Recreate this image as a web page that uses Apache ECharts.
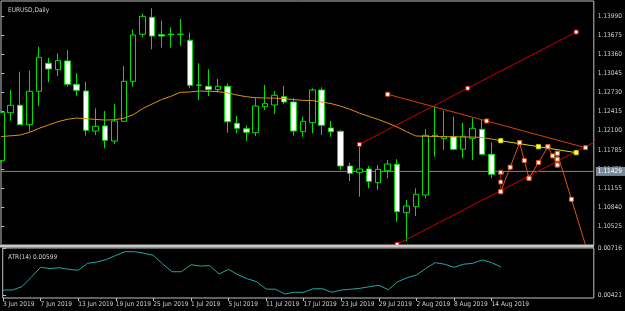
<!DOCTYPE html>
<html><head><meta charset="utf-8">
<script src="https://cdn.jsdelivr.net/npm/echarts@6/dist/echarts.min.js"></script>
<style>html,body{margin:0;padding:0;background:#000}#c{width:625px;height:311px}</style>
</head><body><div id="c"></div>
<script>
const dates = ['3 Jun 2019','4 Jun 2019','5 Jun 2019','6 Jun 2019','7 Jun 2019','10 Jun 2019','11 Jun 2019','12 Jun 2019','13 Jun 2019','14 Jun 2019',
'17 Jun 2019','18 Jun 2019','19 Jun 2019','20 Jun 2019','21 Jun 2019','24 Jun 2019','25 Jun 2019','26 Jun 2019','27 Jun 2019','28 Jun 2019',
'1 Jul 2019','2 Jul 2019','3 Jul 2019','4 Jul 2019','5 Jul 2019','8 Jul 2019','9 Jul 2019','10 Jul 2019','11 Jul 2019','12 Jul 2019',
'15 Jul 2019','16 Jul 2019','17 Jul 2019','18 Jul 2019','19 Jul 2019','22 Jul 2019','23 Jul 2019','24 Jul 2019','25 Jul 2019','26 Jul 2019',
'29 Jul 2019','30 Jul 2019','31 Jul 2019','1 Aug 2019','2 Aug 2019','5 Aug 2019','6 Aug 2019','7 Aug 2019','8 Aug 2019','9 Aug 2019',
'12 Aug 2019','13 Aug 2019','14 Aug 2019','15 Aug 2019'];
const openP = [1.11606,1.12397,1.12519,1.12199,1.12749,1.13211,1.13105,1.13249,1.12865,1.12754,
1.12095,1.12178,1.11930,1.12255,1.12914,1.13689,1.13969,1.13682,1.13693,1.13689,
1.13590,1.12853,1.12832,1.12776,1.12832,1.12222,1.12133,1.12067,1.12496,1.12524,
1.12660,1.12573,1.12084,1.12232,1.12771,1.12145,1.12090,1.11518,1.11415,1.11469,
1.11243,1.11441,1.11547,1.10749,1.10848,1.11041,1.12013,1.11968,1.12001,1.11794,
1.11975,1.12123,1.11711,1.11387];
const closeP = [1.12403,1.12519,1.12199,1.12749,1.13310,1.13117,1.13254,1.12865,1.12766,1.12107,
1.12173,1.11942,1.12260,1.12914,1.13677,1.13985,1.13660,1.13660,1.13682,1.13689,
1.12848,1.12848,1.12776,1.12832,1.12248,1.12140,1.12074,1.12507,1.12545,1.12683,
1.12573,1.12095,1.12255,1.12771,1.12189,1.12084,1.11518,1.11398,1.11469,1.11266,
1.11464,1.11551,1.10765,1.10859,1.11052,1.12024,1.12024,1.12001,1.11794,1.12008,
1.12140,1.11711,1.11382,1.11429];
const lowP = [1.11584,1.12265,1.12194,1.12084,1.12507,1.12898,1.13001,1.12825,1.12677,1.12018,
1.12029,1.11810,1.11881,1.12248,1.12825,1.13639,1.13441,1.13468,1.13468,1.13501,
1.12799,1.12606,1.12672,1.12726,1.12067,1.12057,1.11935,1.12013,1.12441,1.12375,
1.12535,1.12018,1.12001,1.12057,1.12029,1.12001,1.11453,1.11271,1.11013,1.11151,
1.11123,1.11316,1.10601,1.10283,1.10695,1.10986,1.11672,1.11782,1.11774,1.11645,
1.11617,1.11700,1.11316,1.11380];
const highP = [1.12425,1.12771,1.13072,1.13089,1.13484,1.13303,1.13375,1.13430,1.13046,1.12907,
1.12469,1.12425,1.12540,1.13166,1.13771,1.14034,1.14117,1.13913,1.13804,1.13941,
1.13715,1.13211,1.13112,1.12952,1.12881,1.12342,1.12189,1.12644,1.12853,1.12754,
1.12837,1.12634,1.12331,1.12799,1.12815,1.12260,1.12107,1.11573,1.11876,1.11518,
1.11535,1.11617,1.11629,1.10958,1.11151,1.12128,1.12496,1.12425,1.12331,1.12232,
1.12304,1.12276,1.11909,1.11441];
const maValues = [1.12003,1.12016,1.12029,1.12074,1.12138,1.12194,1.12247,1.12288,1.12309,1.12298,
1.12286,1.12276,1.12280,1.12306,1.12364,1.12464,1.12540,1.12613,1.12667,1.12733,
1.12738,1.12753,1.12749,1.12744,1.12723,1.12688,1.12660,1.12644,1.12639,1.12637,
1.12627,1.12613,1.12601,1.12596,1.12573,1.12547,1.12504,1.12453,1.12390,1.12336,
1.12285,1.12227,1.12161,1.12085,1.12013,1.12008,1.12005,1.12001,1.12000,1.11996,
1.11996,1.11988,1.11963,1.11935];
const atrValues = [0.00454,0.00454,0.00475,0.00534,0.00597,0.00589,0.00594,0.00584,0.00578,0.00622,
0.00630,0.00646,0.00671,0.00695,0.00695,0.00685,0.00672,0.00617,0.00569,0.00569,
0.00613,0.00605,0.00607,0.00555,0.00584,0.00550,0.00525,0.00506,0.00460,0.00459,
0.00429,0.00440,0.00440,0.00462,0.00462,0.00440,0.00454,0.00459,0.00465,0.00475,
0.00484,0.00456,0.00506,0.00531,0.00548,0.00590,0.00626,0.00616,0.00597,0.00616,
0.00622,0.00643,0.00626,0.00599];
const bidPrice = 1.11429;
const priceTicks = [1.10525,1.10840,1.11155,1.11470,1.11785,1.12100,1.12415,1.12730,1.13045,1.13360,1.13675,1.13990];
const atrTicks = [0.00421,0.00716];
const dateTickIdx = [0,4,8,12,16,20,24,28,32,36,40,44,48,52];
// drawn objects: [barIndex, price]
const channelUpper = [[38,1.11876],[61,1.13726]];
const channelLowerStart = [42,1.10228];
const resistanceLine = [[41,1.12700],[62,1.11820]];
const maProjection = [[53,1.11935],[61,1.11738]];
const wavePoints = [[53,1.11415],[53,1.11095],[55,1.11902],[56,1.11316],[58,1.11836],[59,1.11535],[59,1.11728],[62,1.10212]];

const X_MIN = -0.03, X_MAX = 62.875;
const FONT = "'Liberation Sans Narrow','DejaVu Sans Condensed','Liberation Sans',sans-serif";
const TXT = '#d0d0d0';

function withMid(a, b){ return [a, [(a[0]+b[0])/2, (a[1]+b[1])/2], b]; }
function handleItems(pts, flags){ return pts.map((p,i)=>({value:p, symbol: flags && flags[i]===false ? 'none':'rect'})); }
function objLine(name, pts, color, dotFill, flags, z){
  return {type:'line', name, xAxisIndex:0, yAxisIndex:0, data: handleItems(pts, flags),
    symbol:'rect', symbolSize:4, showSymbol:true, clip:true, z: z||5, silent:true,
    lineStyle:{color, width:1}, itemStyle:{color: dotFill, borderColor: color, borderWidth:1}};
}
const slope = (channelUpper[1][1]-channelUpper[0][1])/(channelUpper[1][0]-channelUpper[0][0]);
const channelLower = [channelLowerStart, [X_MAX, channelLowerStart[1] + slope*(X_MAX-channelLowerStart[0])]];

const series = [];
series.push({type:'line', name:'Bid', xAxisIndex:0, yAxisIndex:0, z:1, symbol:'none', silent:true,
  data:[[X_MIN, bidPrice],[X_MAX, bidPrice]], lineStyle:{color:'#778899', width:1},
  endLabel:{show:true, distance:2, formatter: bidPrice.toFixed(5), backgroundColor:'#778899', color:'#ffffff',
    fontSize:6.5, fontFamily:"'Liberation Sans Narrow','DejaVu Sans Condensed','Liberation Sans',sans-serif", padding:[1,3,1,2]}
});
series.push({type:'candlestick', name:'EURUSD', xAxisIndex:0, yAxisIndex:0, z:2,
  data: dates.map((d,i)=>[i, openP[i], closeP[i], lowP[i], highP[i]]),
  encode:{x:0, y:[1,2,3,4]}, barWidth:6,
  itemStyle:{color:'#000000', color0:'#ffffff', borderColor:'#00e000', borderColor0:'#00e000', borderWidth:1}
});
series.push({type:'line', name:'MA', xAxisIndex:0, yAxisIndex:0, z:3, symbol:'none', silent:true,
  data: maValues.map((v,i)=>[i,v]), lineStyle:{color:'#e09010', width:1}});
series.push(objLine('channelUpper', withMid(channelUpper[0], channelUpper[1]), '#c80000', '#ffffff'));
series.push(objLine('channelLower', channelLower, '#c80000', '#ffffff', [true,false]));
series.push(objLine('resistance', withMid(resistanceLine[0], resistanceLine[1]), '#d84000', '#ffffff'));
series.push(objLine('maProjection', withMid(maProjection[0], maProjection[1]), '#d8d800', '#ffff90'));
for (let k=0; k<wavePoints.length-1; k++){
  const seg = withMid(wavePoints[k], wavePoints[k+1]);
  series.push(objLine('wave'+k, seg, k===0 ? '#a83010' : '#e05018', '#ffffff', k===wavePoints.length-2 ? [true,true,false] : null, 6));
}
series.push({type:'line', name:'ATR', xAxisIndex:1, yAxisIndex:1, symbol:'none', silent:true,
  data: atrValues.map((v,i)=>[i,v]), lineStyle:{color:'#20a8a0', width:1}});

const labelCommon = {color:TXT, fontSize:6.5, fontFamily:FONT};
const chart = echarts.init(document.getElementById('c'), null, {renderer:'canvas'});
chart.setOption({
  animation:false,
  backgroundColor:'#000000',
  title:[
    {text:'EURUSD,Daily', left:3, top:2, textStyle:{...labelCommon, fontWeight:'normal'}},
    {text:'ATR(14) ' + atrValues[atrValues.length-1].toFixed(5), left:3, top:249, textStyle:{...labelCommon, fontWeight:'normal'}}
  ],
  grid:[
    {left:1, right:31, top:1, height:244, show:true, borderColor:'#c0c0c0', borderWidth:1, backgroundColor:'transparent'},
    {left:1, right:31, top:248, height:50, show:true, borderColor:'#c0c0c0', borderWidth:1, backgroundColor:'transparent'}
  ],
  xAxis:[
    {gridIndex:0, type:'value', min:X_MIN, max:X_MAX, show:false},
    {gridIndex:1, type:'value', min:X_MIN, max:X_MAX,
      axisLine:{show:false}, splitLine:{show:false},
      axisTick:{show:true, customValues:dateTickIdx, length:3, lineStyle:{color:'#c0c0c0'}},
      axisLabel:{...labelCommon, customValues:dateTickIdx, formatter:v=>dates[Math.round(v)], align:'left', margin:3}}
  ],
  yAxis:[
    {gridIndex:0, type:'value', position:'right', min:1.10217, max:1.14237,
      axisLine:{show:false}, splitLine:{show:false},
      axisTick:{show:true, customValues:priceTicks, length:3, lineStyle:{color:'#c0c0c0'}},
      axisLabel:{...labelCommon, customValues:priceTicks, formatter:v=>v.toFixed(5), margin:4}},
    {gridIndex:1, type:'value', position:'right', min:0.00404, max:0.00718,
      axisLine:{show:false}, splitLine:{show:false},
      axisTick:{show:true, customValues:atrTicks, length:3, lineStyle:{color:'#c0c0c0'}},
      axisLabel:{...labelCommon, customValues:atrTicks, formatter:v=>v.toFixed(5), margin:4}}
  ],
  graphic:[{type:'rect', shape:{x:0, y:245, width:594, height:2.5}, style:{fill:'#c8c8c8'}, z:10, silent:true}],
  series
});
</script></body></html>
